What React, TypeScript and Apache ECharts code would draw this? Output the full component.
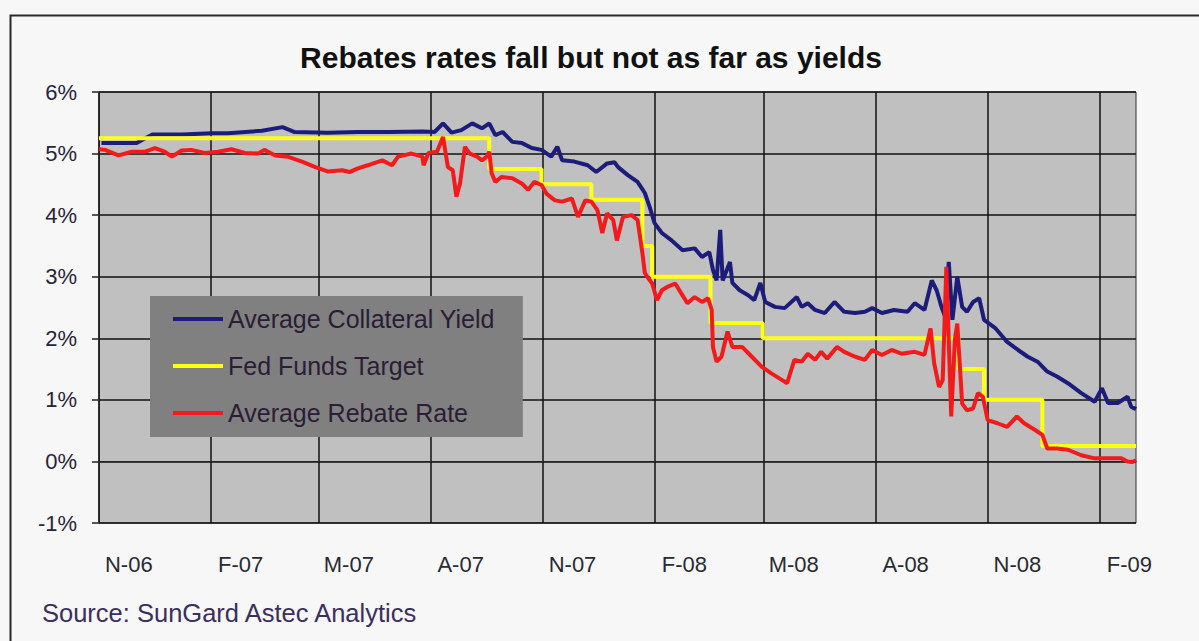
import React, { useEffect, useRef } from "react";
import * as echarts from "echarts";

// x values are days since 1 Nov 2006
const quarterDays = [0, 92, 181, 273, 365, 457, 547, 639, 731, 823];
const quarterLabels = ["N-06", "F-07", "M-07", "A-07", "N-07", "F-08", "M-08", "A-08", "N-08", "F-09"];
const labelShift = 24.5;
const lastDay = 853;

const collateralYield: [number, number][] = [
  [2, 5.17], [31, 5.17], [38, 5.25], [44, 5.31], [68, 5.31], [93, 5.33], [106, 5.33], [134, 5.37],
  [151, 5.43], [161, 5.35], [188, 5.34], [213, 5.35], [238, 5.35], [266, 5.36], [276, 5.35], [283, 5.49],
  [290, 5.34], [298, 5.38], [307, 5.49], [315, 5.41], [321, 5.49], [326, 5.3], [332, 5.35], [340, 5.19],
  [348, 5.17], [356, 5.09], [364, 5.06], [372, 4.95], [377, 5.11], [381, 4.89], [391, 4.87], [402, 4.81],
  [409, 4.7], [418, 4.84], [424, 4.86], [427, 4.78], [435, 4.65], [443, 4.54], [449, 4.36], [453, 4.13],
  [457, 3.87], [463, 3.71], [471, 3.59], [480, 3.43], [490, 3.46], [496, 3.32], [502, 3.4], [505, 3.11],
  [508, 2.94], [511, 3.76], [513, 2.94], [519, 3.24], [521, 2.9], [527, 2.78], [534, 2.7], [539, 2.62],
  [544, 2.9], [548, 2.59], [556, 2.51], [564, 2.49], [574, 2.67], [578, 2.51], [583, 2.57], [589, 2.46],
  [597, 2.41], [605, 2.59], [613, 2.43], [622, 2.41], [630, 2.43], [636, 2.49], [644, 2.41], [654, 2.46],
  [665, 2.43], [671, 2.57], [679, 2.46], [685, 2.94], [689, 2.78], [693, 2.51], [696, 2.35], [699, 3.24],
  [702, 2.3], [706, 3.0], [710, 2.51], [714, 2.43], [719, 2.59], [724, 2.65], [728, 2.3], [737, 2.17],
  [747, 1.94], [756, 1.81], [764, 1.7], [772, 1.62], [780, 1.46], [788, 1.38], [797, 1.27], [808, 1.11],
  [819, 0.97], [825, 1.19], [830, 0.95], [838, 0.95], [846, 1.05], [849, 0.89], [853, 0.85],
];

const fedFundsTarget: [number, number][] = [
  [0, 5.25], [321, 5.25], [321, 4.75], [364, 4.75], [364, 4.5], [405, 4.5], [405, 4.25], [447, 4.25],
  [447, 3.5], [455, 3.5], [455, 3.0], [503, 3.0], [503, 2.25], [546, 2.25], [546, 2.0], [707, 2.0],
  [707, 1.5], [728, 1.5], [728, 1.0], [776, 1.0], [776, 0.25], [853, 0.25],
];

const rebateRate: [number, number][] = [
  [0, 5.07], [5, 5.06], [16, 4.97], [27, 5.03], [38, 5.03], [46, 5.09], [54, 5.03], [60, 4.95],
  [68, 5.05], [76, 5.06], [87, 5.01], [98, 5.03], [109, 5.07], [120, 5.01], [131, 5.0], [136, 5.06],
  [145, 4.97], [155, 4.95], [167, 4.87], [178, 4.78], [188, 4.71], [200, 4.73], [206, 4.7], [213, 4.76],
  [221, 4.81], [233, 4.89], [241, 4.81], [246, 4.95], [257, 5.0], [266, 4.95], [267, 4.81], [271, 5.01],
  [278, 5.03], [283, 5.27], [287, 4.78], [291, 4.73], [294, 4.3], [297, 4.52], [301, 5.11], [305, 5.0],
  [311, 4.95], [315, 4.89], [319, 4.95], [321, 5.03], [323, 4.68], [326, 4.54], [331, 4.62], [340, 4.6],
  [348, 4.51], [353, 4.41], [358, 4.54], [364, 4.49], [368, 4.35], [375, 4.24], [381, 4.22], [389, 4.27],
  [394, 3.97], [400, 4.24], [405, 4.22], [410, 4.08], [414, 3.71], [418, 4.03], [423, 3.92], [426, 3.59],
  [431, 3.97], [438, 4.0], [443, 3.92], [447, 3.38], [449, 3.06], [451, 3.0], [455, 2.89], [459, 2.62],
  [463, 2.78], [468, 2.84], [474, 2.89], [479, 2.73], [484, 2.57], [490, 2.67], [496, 2.59], [501, 2.65],
  [504, 2.46], [505, 1.86], [508, 1.62], [512, 1.7], [517, 2.11], [521, 1.86], [529, 1.86], [537, 1.7],
  [545, 1.54], [553, 1.43], [562, 1.32], [566, 1.27], [572, 1.65], [578, 1.62], [583, 1.75], [589, 1.65],
  [594, 1.78], [599, 1.67], [607, 1.86], [613, 1.78], [622, 1.7], [630, 1.65], [636, 1.81], [644, 1.73],
  [652, 1.81], [660, 1.75], [671, 1.78], [679, 1.73], [684, 2.16], [687, 1.59], [691, 1.21], [694, 1.32],
  [697, 3.16], [701, 0.73], [704, 1.97], [706, 2.24], [710, 0.94], [714, 0.83], [719, 0.86], [723, 1.11],
  [727, 1.05], [731, 0.67], [739, 0.62], [747, 0.56], [755, 0.73], [761, 0.62], [770, 0.51], [776, 0.43],
  [780, 0.21], [788, 0.21], [797, 0.19], [808, 0.1], [819, 0.05], [830, 0.05], [841, 0.05], [846, 0.0],
  [850, -0.01], [853, 0.02],
];

const seriesNames = ["Average Collateral Yield", "Fed Funds Target", "Average Rebate Rate"];
const seriesColors = ["#1c1c7a", "#ffff1a", "#f21a1a"];

const FONT = "'Liberation Sans', Arial, sans-serif";

export default function App() {
  const ref = useRef<HTMLDivElement>(null);
  useEffect(() => {
    if (!ref.current) return;
    const chart = echarts.init(ref.current, null, { renderer: "svg" });
    const labelDays = quarterDays.map((d) => d + labelShift);
    const lineSeries = (i: number, data: [number, number][]) => ({
      name: seriesNames[i],
      type: "line",
      data,
      showSymbol: false,
      symbol: "none",
      lineStyle: { color: seriesColors[i], width: 4 },
      itemStyle: { color: seriesColors[i] },
    });
    chart.setOption({
      animation: false,
      backgroundColor: "#f6f7f6",
      grid: {
        left: 99,
        right: 63,
        top: 92,
        bottom: 118,
        show: true,
        backgroundColor: "#c0c0c0",
        borderColor: "#333",
        borderWidth: 1,
      },
      legend: {
        orient: "vertical",
        left: 150,
        top: 296,
        backgroundColor: "#808080",
        padding: [10, 28, 11, 23],
        itemGap: 21,
        itemWidth: 50,
        itemHeight: 4,
        icon: "rect",
        data: seriesNames,
        textStyle: { fontFamily: FONT, fontSize: 25, color: "#2a1d35", lineHeight: 26 },
      },
      xAxis: {
        type: "value",
        min: 0,
        max: lastDay,
        axisLine: { show: true, lineStyle: { color: "#222", width: 1 } },
        axisTick: { show: false, customValues: quarterDays },
        splitLine: { show: true, lineStyle: { color: "#111", width: 1.5 } },
        axisLabel: {
          customValues: labelDays,
          margin: 30,
          fontFamily: FONT,
          fontSize: 22,
          color: "#2a2a33",
          formatter: (v: number) => {
            let best = 0;
            labelDays.forEach((d, i) => {
              if (Math.abs(d - v) < Math.abs(labelDays[best] - v)) best = i;
            });
            return quarterLabels[best];
          },
        },
      },
      yAxis: {
        type: "value",
        min: -1,
        max: 6,
        interval: 1,
        axisLine: { show: true, lineStyle: { color: "#222", width: 1 } },
        axisTick: { show: true, length: 7, lineStyle: { color: "#222", width: 1.5 } },
        splitLine: { show: true, lineStyle: { color: "#111", width: 1.5 } },
        axisLabel: {
          margin: 22,
          fontFamily: FONT,
          fontSize: 22,
          color: "#2a2438",
          formatter: "{value}%",
        },
      },
      series: [
        lineSeries(0, collateralYield),
        lineSeries(1, fedFundsTarget),
        lineSeries(2, rebateRate),
      ],
      graphic: [
        {
          type: "rect",
          left: 8,
          top: 13,
          shape: { width: 1400, height: 800 },
          style: { fill: "none", stroke: "#2a2a2a", lineWidth: 2 },
          silent: true,
        },
        {
          type: "text",
          x: 591,
          y: 57,
          style: {
            text: "Rebates rates fall but not as far as yields",
            fontFamily: FONT,
            fontSize: 30,
            fontWeight: "bold",
            fill: "#111",
            align: "center",
            verticalAlign: "middle",
          },
        },
        {
          type: "text",
          left: 42,
          top: 600,
          style: {
            text: "Source: SunGard Astec Analytics",
            fontFamily: FONT,
            fontSize: 25.5,
            fill: "#3b2f5e",
          },
        },
      ],
    });
    return () => chart.dispose();
  }, []);
  return (
    <div
      ref={ref}
      style={{ position: "absolute", left: 0, top: 0, width: 1199, height: 641 }}
    />
  );
}
